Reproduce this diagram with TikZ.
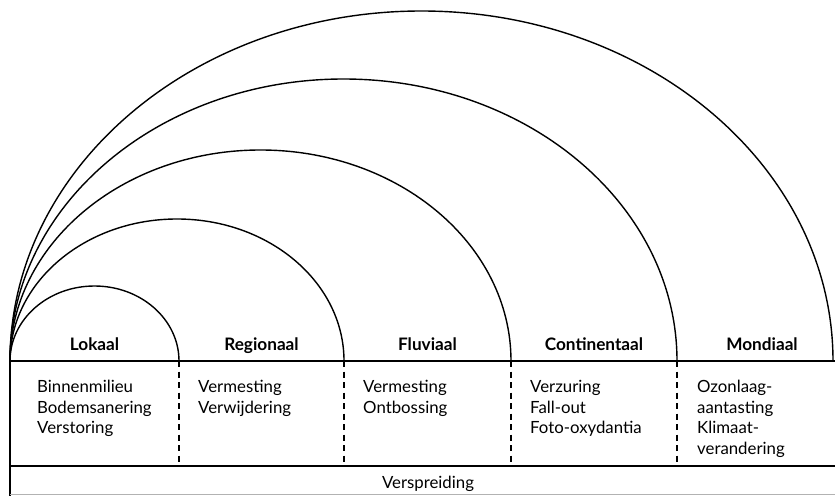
\documentclass[tikz,border=0pt]{standalone}
\usepackage{fontspec}
\setmainfont{Lato}
\usetikzlibrary{positioning}

\begin{document}
\begin{tikzpicture}[
    x=1pt, y=1pt,
    head/.style={anchor=base, inner sep=0pt, font=\fontsize{17.2}{20}\selectfont\bfseries},
    items/.style={anchor=north west, inner sep=0pt, align=left, font=\fontsize{16.8}{20.7}\selectfont},
    band/.style={line width=1.8pt},
    reach/.style={line width=1.4pt},
    divider/.style={line width=1.2pt, dash pattern=on 6pt off 4.5pt}
]
\useasboundingbox (0,0) rectangle (835,496);

% Coordinates
\coordinate (o) at (10,135);
\coordinate (c1) at (179,135);
\coordinate (c2) at (344,135);
\coordinate (c3) at (511,135);
\coordinate (c4) at (677,135);
\coordinate (r) at (835,135);
\coordinate (low) at (10,30);
\coordinate (bot) at (10,0);

% Arcs
\draw[reach] (o) arc[start angle=180, end angle=0, x radius=84.5, y radius=75];
\draw[reach] (o) arc[start angle=180, end angle=0, x radius=167, y radius=142];
\draw[reach] (o) arc[start angle=180, end angle=0, x radius=250.5, y radius=211];
\draw[reach] (o) arc[start angle=180, end angle=0, x radius=333.5, y radius=282];
\draw[reach] (o) arc[start angle=180, end angle=0, x radius=411.5, y radius=350];

% Table lines
\draw[band] (o) -- (r);
\draw[band] (low) -- (low -| r);
\draw[band] (o) -- (bot);
\draw[gray!60, line width=0.6pt] (10,2) -- (835,2);
\draw[divider] (c1) -- (c1 |- low);
\draw[divider] (c2) -- (c2 |- low);
\draw[divider] (c3) -- (c3 |- low);
\draw[divider] (c4) -- (c4 |- low);

% Headers
\node[head] (lokaal) at (94.5,146) {Lokaal};
\node[head] (regionaal) at (261.5,146) {Regionaal};
\node[head] (fluviaal) at (427.5,146) {Fluviaal};
\node[head] (continentaal) at (594,146) {Continentaal};
\node[head] (mondiaal) at (762,146) {Mondiaal};

% Items
\node[items] (lokitems) at (37,116) {Binnenmilieu\\Bodemsanering\\Verstoring};
\node[items] (regitems) at (198,116) {Vermesting\\Verwijdering};
\node[items] (fluitems) at (363,116) {Vermesting\\Ontbossing};
\node[items] (conitems) at (530,116) {Verzuring\\Fall-out\\Foto-oxydantia};
\node[items] (monitems) at (697,116) {Ozonlaag-\\aantasting\\Klimaat-\\verandering};

\node[items, anchor=base] (verspreiding) at (428,8) {Verspreiding};

\end{tikzpicture}
\end{document}
